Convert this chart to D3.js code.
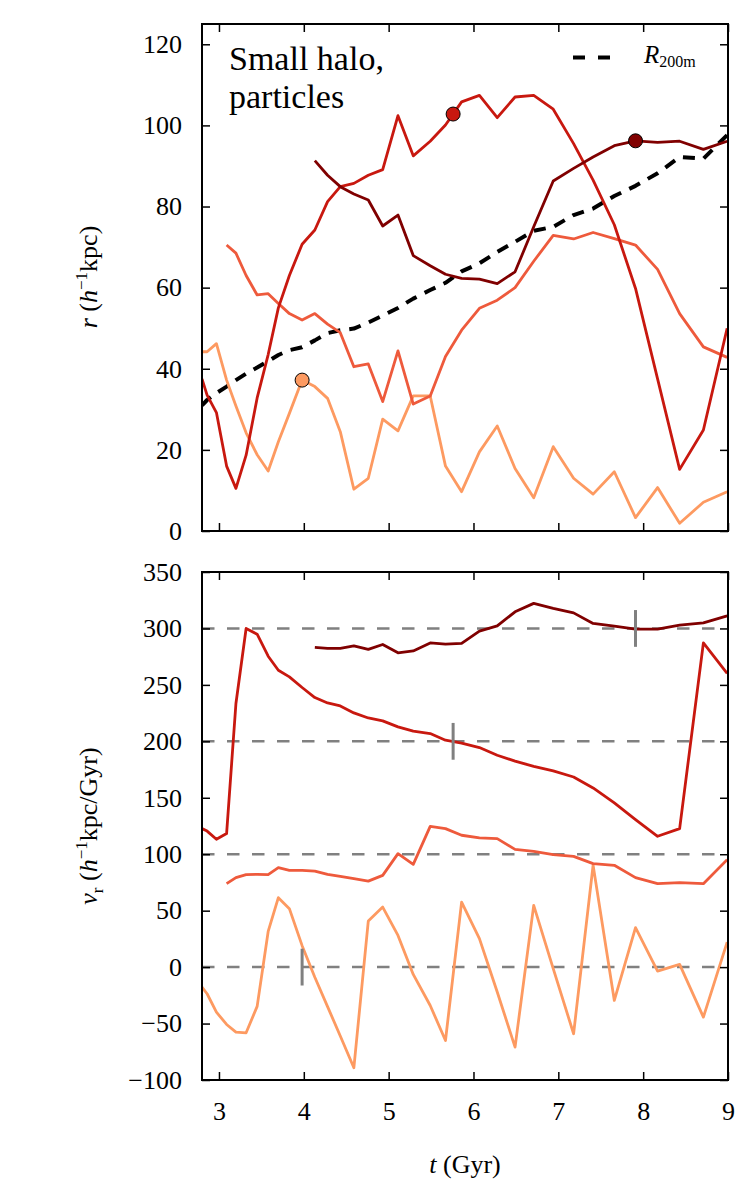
<!DOCTYPE html>
<html>
<head>
<meta charset="utf-8">
<script src="https://cdn.jsdelivr.net/npm/d3@7"></script>
<style>
body { margin: 0; background: #fff; }
text { font-family: "Liberation Serif", "DejaVu Serif", serif; fill: #000; }
</style>
</head>
<body>
<div id="chart"></div>
<script>
var width = 750;
var height = 1200;

// snapshot times (Gyr)
var times = [2.80, 2.86, 2.97, 3.09, 3.20, 3.32, 3.45, 3.58, 3.70, 3.83,
  3.98, 4.13, 4.28, 4.43, 4.59, 4.76, 4.93, 5.11, 5.29, 5.49,
  5.67, 5.86, 6.07, 6.28, 6.49, 6.71, 6.94, 7.18, 7.41, 7.66,
  7.91, 8.17, 8.43, 8.71, 8.99];

// radius r (h^-1 kpc)
var rDarkRed = [null, null, null, null, null, null, null, null, null, null,
  null, 91.3, 87.7, 84.9, 83.1, 81.6, 75.2, 77.9, 67.9, 65.4,
  63.3, 62.3, 62.1, 61.0, 63.9, 75.0, 86.3, 89.4, 92.2, 95.0,
  96.2, 95.8, 96.1, 94.1, 96.1];
var rRed = [37.5, 33.5, 29.2, 16.0, 10.5, 18.7, 32.8, 43.5, 55.0, 63.0,
  70.7, 74.2, 81.2, 84.9, 85.7, 87.7, 89.1, 102.4, 92.5, 96.1,
  100.1, 105.8, 107.4, 101.9, 107.0, 107.4, 104.0, 95.5, 86.5, 75.5,
  59.8, 37.5, 15.2, 24.9, 50.0];
var rOrangeRed = [null, null, null, 70.5, 68.5, 63.0, 58.2, 58.5, 56.1, 53.6,
  52.0, 53.6, 51.0, 48.9, 40.5, 41.2, 31.9, 44.4, 31.3, 33.3,
  43.0, 49.5, 54.9, 56.9, 60.0, 66.5, 72.9, 72.0, 73.6, 72.1,
  70.5, 64.5, 53.6, 45.4, 42.8];
var rLightOrange = [44.2, 44.2, 46.2, 37.2, 30.8, 24.2, 18.8, 14.8, 22.0, 29.0,
  37.2, 35.6, 32.7, 24.5, 10.3, 13.0, 27.6, 24.7, 33.3, 33.3,
  16.0, 9.7, 19.5, 25.9, 15.4, 8.2, 20.8, 13.0, 9.1, 14.6,
  3.3, 10.7, 1.9, 7.1, 9.7];
var r200m = [31.0, 32.3, 34.0, 35.6, 37.2, 38.8, 40.3, 41.9, 43.4, 44.6,
  45.3, 47.0, 48.8, 49.5, 49.9, 51.4, 53.1, 55.0, 57.3, 59.4,
  61.2, 64.0, 66.0, 68.8, 71.3, 74.0, 75.0, 77.9, 79.5, 82.6,
  85.1, 88.2, 92.2, 91.8, 97.6];

// radial velocity v_r (h^-1 kpc/Gyr)
var vDarkRed = [null, null, null, null, null, null, null, null, null, null,
  null, 283.2, 282.3, 282.3, 284.6, 281.4, 285.8, 278.4, 280.1, 287.2,
  286.1, 286.7, 297.6, 302.3, 314.7, 322.2, 317.7, 313.8, 304.4, 302.0,
  299.4, 299.4, 302.9, 305.0, 311.2];
var vRed = [122.7, 120.5, 113.2, 118.3, 233.5, 300.0, 294.9, 275.4, 263.0, 257.1,
  247.7, 238.8, 234.0, 231.4, 225.2, 220.7, 218.1, 212.8, 209.0, 206.9,
  201.0, 198.5, 194.5, 187.7, 182.4, 177.9, 173.8, 168.4, 158.7, 145.4,
  130.7, 115.9, 122.7, 287.2, 260.1];
var vOrangeRed = [null, null, null, 73.9, 79.3, 81.9, 82.2, 81.9, 88.1, 85.7,
  85.7, 85.1, 82.2, 80.4, 78.4, 76.2, 81.3, 100.5, 91.0, 124.7,
  122.7, 116.8, 114.4, 113.8, 104.3, 102.6, 99.6, 98.1, 91.7, 90.2,
  79.3, 73.9, 74.8, 73.9, 95.2];
var vLightOrange = [-17.7, -23.6, -39.9, -50.8, -57.6, -58.2, -34.8, 31.6, 61.5, 51.8,
  19.0, -9.0, -35.0, -61.0, -89.2, 40.8, 53.2, 28.1, -6.5, -34.0,
  -65.0, 57.6, 25.2, -22.0, -70.9, 54.7, -1.4, -59.0, 90.2, -29.5,
  34.9, -3.5, 2.4, -44.3, 22.2];

// markers: time, radius, velocity reference level
var markerTimes = [3.98, 5.76, 7.91];
var markerRadii = [37.2, 102.8, 96.2];
var markerLevels = [0, 200, 300];
var markerColors = ["#fd9a61", "#c8180f", "#800000"];

var refLevels = [300, 200, 100, 0];

var xTicks = [3, 4, 5, 6, 7, 8, 9];
var rTicks = [0, 20, 40, 60, 80, 100, 120];
var vTicks = [-100, -50, 0, 50, 100, 150, 200, 250, 300, 350];

var colors = {
  darkRed: "#800000",
  red: "#c8180f",
  orangeRed: "#ee5a3c",
  lightOrange: "#fd9a61"
};

var chart, xScale, rScale, vScale;

window.onload = start;

function start() {
  chart = d3.select("#chart").append("svg")
    .attr("width", width)
    .attr("height", height);

  xScale = d3.scaleLinear().domain([2.8, 9]).range([202, 728]);
  rScale = d3.scaleLinear().domain([0, 125]).range([531, 24]);
  vScale = d3.scaleLinear().domain([-100, 350]).range([1080, 572]);

  var defs = chart.append("defs");
  defs.append("clipPath").attr("id", "clipTop")
    .append("rect").attr("x", 202).attr("y", 24).attr("width", 526).attr("height", 507);
  defs.append("clipPath").attr("id", "clipBottom")
    .append("rect").attr("x", 202).attr("y", 572).attr("width", 526).attr("height", 508);

  drawTop();
  drawBottom();

  // x axis label
  var xl = chart.append("text")
    .attr("x", 465)
    .attr("y", 1173)
    .attr("text-anchor", "middle")
    .style("font-size", "26px");
  xl.append("tspan").style("font-style", "italic").text("t");
  xl.append("tspan").text(" (Gyr)");
}

function series(values) {
  return times.map(function (t, i) { return { t: t, v: values[i] }; });
}

function drawLine(g, values, yScale, color, w, dash) {
  var line = d3.line()
    .defined(function (d) { return d.v !== null; })
    .x(function (d) { return xScale(d.t); })
    .y(function (d) { return yScale(d.v); });
  var p = g.append("path")
    .datum(series(values))
    .attr("fill", "none")
    .attr("stroke", color)
    .attr("stroke-width", w)
    .attr("stroke-linejoin", "round")
    .attr("d", line);
  if (dash) p.attr("stroke-dasharray", dash);
}

function drawAxes(yScale, top, bottom, yTickValues, showX) {
  // left
  chart.append("g")
    .attr("transform", "translate(202,0)")
    .call(d3.axisLeft(yScale).tickValues(yTickValues).tickSize(-8).tickPadding(20));
  // right
  chart.append("g")
    .attr("transform", "translate(728,0)")
    .call(d3.axisRight(yScale).tickValues(yTickValues).tickSize(-8).tickFormat(""));
  // top
  chart.append("g")
    .attr("transform", "translate(0," + top + ")")
    .call(d3.axisTop(xScale).tickValues(xTicks).tickSize(-8).tickFormat(""));
  // bottom
  chart.append("g")
    .attr("transform", "translate(0," + bottom + ")")
    .call(d3.axisBottom(xScale).tickValues(xTicks).tickSize(-8).tickPadding(22)
      .tickFormat(showX ? d3.format("d") : ""));

  chart.selectAll(".domain").remove();
  chart.selectAll(".tick line").attr("stroke", "#000").attr("stroke-width", 1.5);
  chart.selectAll(".tick text")
    .style("font-family", "'Liberation Serif', 'DejaVu Serif', serif")
    .style("font-size", "26px")
    .attr("fill", "#000");

  // frame
  chart.append("rect")
    .attr("x", 202)
    .attr("y", top)
    .attr("width", 526)
    .attr("height", bottom - top)
    .attr("fill", "none")
    .attr("stroke", "#000")
    .attr("stroke-width", 2);
}

function drawTop() {
  var g = chart.append("g").attr("clip-path", "url(#clipTop)");

  drawLine(g, r200m, rScale, "#000", 4, "12,9");
  drawLine(g, rLightOrange, rScale, colors.lightOrange, 2.8);
  drawLine(g, rOrangeRed, rScale, colors.orangeRed, 2.8);
  drawLine(g, rRed, rScale, colors.red, 2.8);
  drawLine(g, rDarkRed, rScale, colors.darkRed, 2.8);

  g.selectAll("circle.marker")
    .data(markerTimes)
    .enter()
    .append("circle")
    .attr("class", "marker")
    .attr("cx", function (d) { return xScale(d); })
    .attr("cy", function (d, i) { return rScale(markerRadii[i]); })
    .attr("r", 7)
    .attr("fill", function (d, i) { return markerColors[i]; })
    .attr("stroke", "#000")
    .attr("stroke-width", 1);

  drawAxes(rScale, 24, 531, rTicks, false);

  // title
  chart.append("text").attr("x", 229).attr("y", 70)
    .style("font-size", "34px").text("Small halo,");
  chart.append("text").attr("x", 229).attr("y", 108)
    .style("font-size", "34px").text("particles");

  // legend
  chart.append("line")
    .attr("x1", 573).attr("x2", 610)
    .attr("y1", 57.5).attr("y2", 57.5)
    .attr("stroke", "#000")
    .attr("stroke-width", 4)
    .attr("stroke-dasharray", "12,13");
  var lt = chart.append("text").attr("x", 644).attr("y", 63).style("font-size", "25px");
  lt.append("tspan").style("font-style", "italic").text("R");
  lt.append("tspan").attr("dy", 4).style("font-size", "16px").text("200m");

  // y label
  var yl = chart.append("text")
    .attr("transform", "translate(97,277) rotate(-90)")
    .attr("text-anchor", "middle")
    .style("font-size", "26px");
  yl.append("tspan").style("font-style", "italic").text("r");
  yl.append("tspan").text(" (");
  yl.append("tspan").style("font-style", "italic").text("h");
  yl.append("tspan").attr("dy", -10).style("font-size", "17px").text("\u22121");
  yl.append("tspan").attr("dy", 10).text("kpc)");
}

function drawBottom() {
  var g = chart.append("g").attr("clip-path", "url(#clipBottom)");

  g.selectAll("line.ref")
    .data(refLevels)
    .enter()
    .append("line")
    .attr("class", "ref")
    .attr("x1", 202)
    .attr("x2", 728)
    .attr("y1", function (d) { return vScale(d); })
    .attr("y2", function (d) { return vScale(d); })
    .attr("stroke", "#808080")
    .attr("stroke-width", 2.5)
    .attr("stroke-dasharray", "12.5,12.5");

  drawLine(g, vLightOrange, vScale, colors.lightOrange, 2.8);
  drawLine(g, vOrangeRed, vScale, colors.orangeRed, 2.8);
  drawLine(g, vRed, vScale, colors.red, 2.8);
  drawLine(g, vDarkRed, vScale, colors.darkRed, 2.8);

  // grey bars marking the marker times
  g.selectAll("line.mark")
    .data(markerTimes)
    .enter()
    .append("line")
    .attr("class", "mark")
    .attr("x1", function (d) { return xScale(d); })
    .attr("x2", function (d) { return xScale(d); })
    .attr("y1", function (d, i) { return vScale(markerLevels[i] + 16.3); })
    .attr("y2", function (d, i) { return vScale(markerLevels[i] - 16.3); })
    .attr("stroke", "#808080")
    .attr("stroke-width", 3);

  drawAxes(vScale, 572, 1080, vTicks, true);

  var yl = chart.append("text")
    .attr("transform", "translate(97,826) rotate(-90)")
    .attr("text-anchor", "middle")
    .style("font-size", "26px");
  yl.append("tspan").style("font-style", "italic").text("v");
  yl.append("tspan").attr("dy", 6).style("font-size", "17px").text("r");
  yl.append("tspan").attr("dy", -6).text(" (");
  yl.append("tspan").style("font-style", "italic").text("h");
  yl.append("tspan").attr("dy", -10).style("font-size", "17px").text("\u22121");
  yl.append("tspan").attr("dy", 10).text("kpc/Gyr)");
}
</script>
</body>
</html>
